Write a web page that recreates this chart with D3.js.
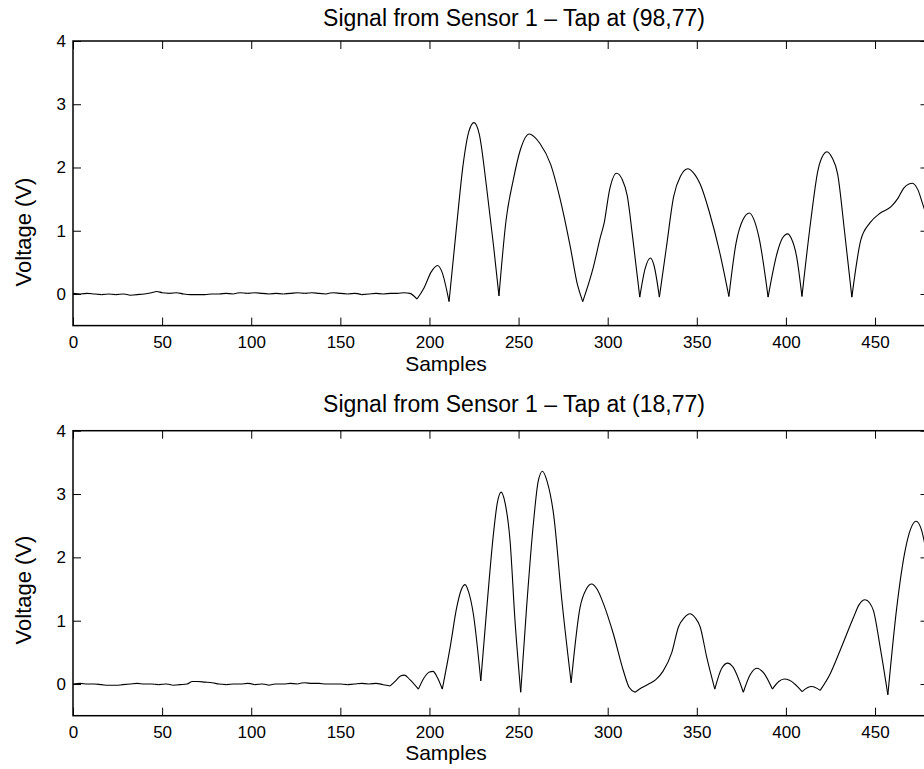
<!DOCTYPE html>
<html>
<head>
<meta charset="utf-8">
<script src="https://cdn.jsdelivr.net/npm/d3@7/dist/d3.min.js"></script>
<style>
  html, body { margin: 0; padding: 0; background: #fff; overflow: hidden; }
  svg { display: block; font-family: "Liberation Sans", Arial, Helvetica, sans-serif; }
</style>
</head>
<body>
<svg id="fig" width="924" height="769"></svg>
<script>
// ---- Sensor 1, tap at (98,77) ----
const tap1Samples = [0,4,8,12,16,20,24,28,32,36,40,44,47,50,54,58,62,66,70,74,78,82,86,90,94,98,102,106,110,114,118,122,126,130,134,138,142,146,150,154,158,162,166,170,174,178,182,186,189,193,
  197,201,204.5,207,211,215,219,222,225,228,232,236,239,243,247,251,256,259,262,268,273,279,283,286,
  292,296,298,301,305,308,311,314,318,321,324,326,329,333,337,341,345,348,352,357,363,368,
  372,376,379.5,382,385,390,395,398,401,403,406,409,414,418,421,423,426,429,433,437,
  442,447,453,459,463,466,469,471,474,477,480];
const tap1Volts = [0.01,0.0,0.01,0.0,-0.01,0.0,-0.01,0.0,-0.02,-0.01,0.0,0.02,0.04,0.02,0.01,0.02,0.0,-0.01,-0.01,-0.01,0.0,0.0,0.01,0.0,0.02,0.01,0.02,0.01,0.0,0.01,0.0,0.01,0.02,0.01,0.02,0.01,0.0,0.02,0.01,0.0,0.01,-0.01,0.0,0.01,0.0,0.01,0.01,0.02,0.01,-0.08,
  0.1,0.35,0.45,0.35,-0.12,1.01,2.07,2.56,2.71,2.52,1.70,0.75,-0.03,1.17,1.80,2.28,2.53,2.48,2.38,2.05,1.54,0.75,0.15,-0.12,
  0.43,0.91,1.12,1.64,1.91,1.82,1.55,0.90,-0.05,0.40,0.57,0.45,-0.05,0.75,1.54,1.87,1.98,1.92,1.73,1.30,0.64,-0.04,
  0.80,1.18,1.28,1.18,0.88,-0.05,0.64,0.88,0.95,0.88,0.59,-0.04,1.17,1.96,2.20,2.25,2.15,1.90,0.96,-0.05,
  0.85,1.12,1.28,1.38,1.52,1.67,1.74,1.75,1.65,1.40,1.15];

// ---- Sensor 1, tap at (18,77) ----
const tap2Samples = [0,4,8,12,16,20,24,28,32,36,40,44,48,52,56,60,64,67,70,74,78,82,86,90,94,98,102,106,110,114,118,122,126,130,134,138,142,146,150,154,158,162,166,170,174,178,
  181,184,186,189,193.8,197,200,202,204.5,207.2,211.6,215.3,218,220,222,224.6,228.8,232.2,235.9,238,240.2,242.5,245.2,248,251.2,
  254.5,258.3,261,263.4,266,269.6,274.3,279.5,284.5,288,291,294,297.6,303.2,308.8,312,315.4,319,323,327,331,336,339.7,343,346.2,349,351.9,355.6,360.1,
  364,367.4,370,376.1,380,383.6,387.4,392.4,396,399,402,409.1,412,414.5,419.2,424.8,430.4,437.9,441,444.4,447,449.1,452.9,457.2,
  462.2,466.9,470,473,476.1,478,480];
const tap2Volts = [0.0,0.01,0.0,0.0,-0.01,-0.02,-0.02,-0.01,0.0,0.01,0.0,0.0,-0.01,0.0,-0.02,-0.01,0.0,0.04,0.04,0.03,0.02,0.0,-0.01,0.0,0.0,0.01,-0.01,0.0,-0.02,0.0,0.0,0.01,0.0,0.02,0.01,0.01,0.0,0.0,0.0,-0.01,0.0,0.01,0.0,0.01,-0.01,-0.03,
  0.05,0.13,0.14,0.07,-0.08,0.10,0.19,0.20,0.10,-0.08,0.58,1.21,1.50,1.57,1.45,1.11,0.05,1.21,2.37,2.85,3.03,2.85,2.27,1.00,-0.13,
  1.21,2.53,3.20,3.36,3.20,2.69,1.32,0.02,1.21,1.50,1.58,1.50,1.27,0.79,0.21,-0.05,-0.13,-0.06,0.0,0.07,0.20,0.50,0.90,1.05,1.11,1.05,0.90,0.42,-0.08,
  0.25,0.33,0.28,-0.13,0.15,0.25,0.18,-0.08,0.04,0.08,0.06,-0.12,-0.06,-0.04,-0.10,0.16,0.53,1.05,1.25,1.33,1.28,1.16,0.58,-0.17,
  1.21,2.11,2.45,2.57,2.43,2.20,1.90];

const xTicks = [0,50,100,150,200,250,300,350,400,450];
const yTicks = [0,1,2,3,4];

const panels = [
  { title: "Signal from Sensor 1 \u2013 Tap at (98,77)", xs: tap1Samples, vs: tap1Volts,
    top: 41, bottom: 325.6, titleY: 26, xlabY: 371, ylabY: 232 },
  { title: "Signal from Sensor 1 \u2013 Tap at (18,77)", xs: tap2Samples, vs: tap2Volts,
    top: 430.7, bottom: 715.7, titleY: 411.7, xlabY: 760, ylabY: 590 }
];

const svg = d3.select("#fig");
const left = 73, right = 928.5, tick = 8;

// split a trace at its local minima so the rectified dips stay pointed
function pieces(xs, vs) {
  const pts = xs.map((x, i) => [x, vs[i]]);
  const out = [];
  let cur = [pts[0]];
  for (let i = 1; i < pts.length; i++) {
    cur.push(pts[i]);
    if (i < pts.length - 1 && pts[i][1] < pts[i - 1][1] && pts[i][1] < pts[i + 1][1]) {
      out.push(cur);
      cur = [pts[i]];
    }
  }
  out.push(cur);
  return out;
}

panels.forEach(p => {
  const x = d3.scaleLinear().domain([0, 480]).range([left, right]);
  const y = d3.scaleLinear().domain([-0.5, 4]).range([p.bottom, p.top]);
  const g = svg.append("g");

  // trace
  const line = d3.line().x(d => x(d[0])).y(d => y(d[1])).curve(d3.curveMonotoneX);
  g.selectAll("path.trace").data(pieces(p.xs, p.vs)).join("path")
    .attr("class", "trace")
    .attr("d", line)
    .attr("fill", "none").attr("stroke", "#000").attr("stroke-width", 1.1)
    .attr("stroke-linejoin", "round");

  // inward ticks on all four sides
  const xb = d3.axisBottom(x).tickValues(xTicks).tickFormat(d3.format("d")).tickSizeInner(-tick).tickSizeOuter(0).tickPadding(10);
  const xt = d3.axisTop(x).tickValues(xTicks).tickSizeInner(-tick).tickSizeOuter(0).tickFormat("");
  const yl = d3.axisLeft(y).tickValues(yTicks).tickFormat(d3.format("d")).tickSizeInner(-tick).tickSizeOuter(0).tickPadding(7);
  const yr = d3.axisRight(y).tickValues(yTicks).tickSizeInner(-tick).tickSizeOuter(0).tickFormat("");

  const styleAxis = sel => {
    sel.select(".domain").remove();
    sel.selectAll(".tick line").attr("stroke", "#000").attr("stroke-width", 1);
    sel.selectAll(".tick text").attr("fill", "#000").style("font-size", "17px")
      .style("font-family", "'Liberation Sans', Arial, sans-serif");
  };
  g.append("g").attr("transform", `translate(0,${p.bottom})`).call(xb).call(styleAxis)
    .selectAll(".tick text").attr("dy", "0.71em");
  g.append("g").attr("transform", `translate(0,${p.top})`).call(xt).call(styleAxis);
  g.append("g").attr("transform", `translate(${left},0)`).call(yl).call(styleAxis);
  g.append("g").attr("transform", `translate(${right},0)`).call(yr).call(styleAxis);

  // box
  g.append("rect").attr("x", left).attr("y", p.top)
    .attr("width", right - left).attr("height", p.bottom - p.top)
    .attr("fill", "none").attr("stroke", "#000").attr("stroke-width", 1.5);

  // labels
  g.append("text").attr("x", 514).attr("y", p.titleY).attr("text-anchor", "middle")
    .style("font-size", "23px").text(p.title);
  g.append("text").attr("x", 446).attr("y", p.xlabY).attr("text-anchor", "middle")
    .style("font-size", "21px").text("Samples");
  g.append("text").attr("transform", `translate(31,${p.ylabY}) rotate(-90)`)
    .attr("text-anchor", "middle").style("font-size", "22px").text("Voltage (V)");
});
</script>
</body>
</html>
